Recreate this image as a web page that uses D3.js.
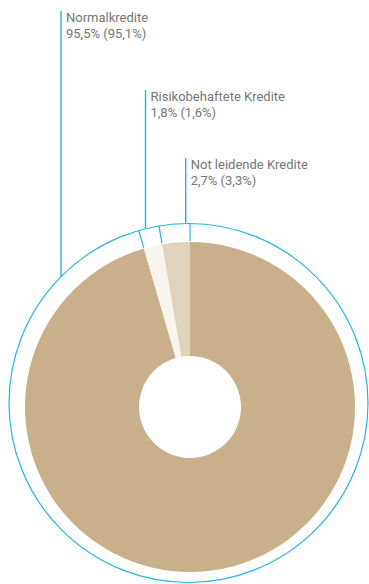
<!DOCTYPE html>
<html><head><meta charset="utf-8">
<script src="https://cdn.jsdelivr.net/npm/d3@7"></script>
<style>html,body{margin:0;padding:0;background:#fff;}svg{display:block;}</style>
</head><body>
<script>
const categories = ["Normalkredite", "Risikobehaftete Kredite", "Not leidende Kredite"];
const values = [95.5, 1.8, 2.7];
const valueLabels = ["95,5% (95,1%)", "1,8% (1,6%)", "2,7% (3,3%)"];

const W = 369, H = 584;
const cx = 190, cy = 407, R = 165, r0 = 51;
const ocx = 188.5, ocy = 403, oR = 179.5;
const colors = ["#c8b08b", "#f8f4ee", "#e0d3bc"];
const blue = "#22b7e3";
const textColor = "#767676";
// label layout: leader x and top y
const labelLayout = [{x: 61, y: 11}, {x: 145.5, y: 90}, {x: 185.7, y: 158}];

const svg = d3.select("body").append("svg").attr("width", W).attr("height", H);

const pie = d3.pie().sort(null).value(d => d)(values);
const arc = d3.arc().innerRadius(r0).outerRadius(R);

const g = svg.append("g").attr("transform", `translate(${cx},${cy})`);
g.selectAll("path").data(pie).join("path")
  .attr("d", arc).attr("fill", (d, i) => colors[i]);

// outer circle
svg.append("circle").attr("cx", ocx).attr("cy", ocy).attr("r", oR)
  .attr("fill", "none").attr("stroke", blue).attr("stroke-width", 1.2);

// intersection of ray from pie center at angle a with outer circle
function rayHit(a) {
  const dx = Math.sin(a), dy = -Math.cos(a);
  const fx = cx - ocx, fy = cy - ocy;
  const b = fx * dx + fy * dy;
  const c = fx * fx + fy * fy - oR * oR;
  const t = -b + Math.sqrt(b * b - c);
  return [cx + dx * t, cy + dy * t];
}

// radial ticks at slice boundaries
const bounds = pie.map(d => d.startAngle);
bounds.forEach(a => {
  const p = rayHit(a);
  svg.append("line")
    .attr("x1", p[0]).attr("y1", p[1])
    .attr("x2", cx + Math.sin(a) * (R + 1)).attr("y2", cy - Math.cos(a) * (R + 1))
    .attr("stroke", blue).attr("stroke-width", 1.2);
});

// labels with vertical leaders
categories.forEach((c, i) => {
  const L = labelLayout[i];
  const yHit = ocy - Math.sqrt(oR * oR - (L.x - ocx) ** 2);
  svg.append("line").attr("x1", L.x).attr("x2", L.x)
    .attr("y1", L.y).attr("y2", yHit)
    .attr("stroke", blue).attr("stroke-width", 1.4);
  const t = svg.append("text").attr("x", L.x + 5).attr("y", L.y + 11)
    .attr("font-family", "Roboto, sans-serif").attr("font-size", 13)
    .attr("fill", textColor);
  t.append("tspan").attr("x", L.x + 5).text(c);
  t.append("tspan").attr("x", L.x + 5).attr("dy", 15.5).text(valueLabels[i]);
});
</script>
</body></html>
